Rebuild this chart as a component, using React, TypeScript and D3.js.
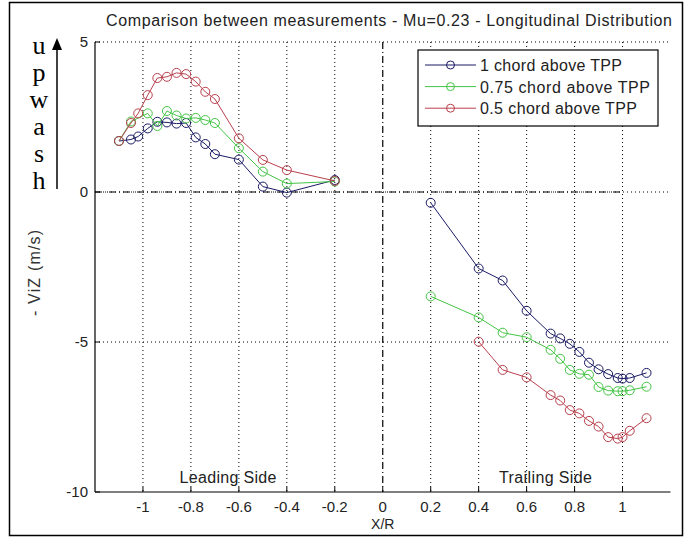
import React from "react";
import * as d3 from "d3";

// ---------- data ----------
const xLead = [-1.1, -1.05, -1.02, -0.98, -0.94, -0.9, -0.86, -0.82, -0.78, -0.74, -0.7, -0.6, -0.5, -0.4, -0.2];
const blueLead = [1.7, 1.75, 1.85, 2.12, 2.34, 2.32, 2.28, 2.3, 1.82, 1.6, 1.26, 1.08, 0.18, -0.02, 0.4];
const xGreenLead = [-1.1, -1.05, -0.98, -0.94, -0.9, -0.86, -0.82, -0.78, -0.74, -0.7, -0.6, -0.5, -0.4, -0.2];
const greenLead = [1.7, 2.35, 2.62, 2.2, 2.7, 2.55, 2.45, 2.47, 2.4, 2.3, 1.46, 0.68, 0.28, 0.35];
const redLead = [1.7, 2.3, 2.62, 3.23, 3.8, 3.84, 3.97, 3.93, 3.68, 3.34, 3.1, 1.79, 1.07, 0.73, 0.37];

const xTrail = [0.2, 0.4, 0.5, 0.6, 0.7, 0.74, 0.78, 0.82, 0.86, 0.9, 0.94, 0.98, 1.0, 1.03, 1.1];
const blueTrail = [-0.36, -2.55, -2.95, -3.96, -4.72, -4.88, -5.06, -5.33, -5.69, -5.91, -6.07, -6.2, -6.22, -6.2, -6.03];
const greenTrail = [-3.48, -4.18, -4.69, -4.84, -5.26, -5.56, -5.93, -6.06, -6.09, -6.5, -6.62, -6.64, -6.64, -6.61, -6.49];
const xRedTrail = [0.4, 0.5, 0.6, 0.7, 0.74, 0.78, 0.82, 0.86, 0.9, 0.94, 0.98, 1.0, 1.03, 1.1];
const redTrail = [-4.99, -5.93, -6.18, -6.77, -6.95, -7.27, -7.38, -7.63, -7.82, -8.17, -8.22, -8.17, -7.96, -7.54];

const seriesNames = ["1 chord above TPP", "0.75 chord above TPP", "0.5 chord above TPP"];
const seriesColors = ["#1a1a66", "#44c444", "#b8404c"];
const xTicks = [-1, -0.8, -0.6, -0.4, -0.2, 0, 0.2, 0.4, 0.6, 0.8, 1];
const yTicks = [5, 0, -5, -10];
const upwashLetters = ["u", "p", "w", "a", "s", "h"];

const titleText = "Comparison between measurements - Mu=0.23 - Longitudinal Distribution";

type Pt = [number, number];
const zip = (xs: number[], ys: number[]): Pt[] => xs.map((x, i) => [x, ys[i]]);

const segments = [
  [zip(xLead, blueLead), zip(xTrail, blueTrail)],
  [zip(xGreenLead, greenLead), zip(xTrail, greenTrail)],
  [zip(xLead, redLead), zip(xRedTrail, redTrail)],
];

// ---------- layout ----------
const W = 686;
const H = 539;
const x = d3.scaleLinear().domain([-1.2, 1.2]).range([95, 670.5]);
const y = d3.scaleLinear().domain([-10, 5]).range([492, 42]);
const font = "'Liberation Sans', Arial, Helvetica, sans-serif";
const legendTextLen = [142, 170, 157];

const fmt = (t: number) => (t < 0 ? "-" + Math.abs(t) : String(t));

export default function App() {
  const line = d3
    .line<Pt>()
    .x((d) => x(d[0]))
    .y((d) => y(d[1]));
  const [x0, x1] = x.range();
  const [yb, yt] = y.range();

  return (
    <svg
      width={W}
      height={H}
      style={{ position: "absolute", left: 0, top: 0, background: "#fff" }}
      fontFamily={font}
    >
      <rect x={0} y={0} width={W} height={H} fill="#fff" />
      {/* outer frame */}
      <rect x={9.5} y={2.5} width={673} height={533} fill="none" stroke="#000" strokeWidth={1.5} />

      {/* title */}
      <text x={389} y={26} textAnchor="middle" fontSize={16} fill="#222" textLength={566} lengthAdjust="spacing">
        {titleText}
      </text>

      {/* vertical grid */}
      {xTicks
        .filter((t) => t !== 0)
        .map((t) => (
          <line key={"vg" + t} x1={x(t)} x2={x(t)} y1={yt} y2={yb} stroke="#000" strokeWidth={1} strokeDasharray="1,3" />
        ))}
      {/* horizontal grid */}
      {yTicks
        .filter((t) => t !== -10)
        .map((t) => (
          <line key={"hg" + t} x1={x0} x2={x1} y1={y(t)} y2={y(t)} stroke="#000" strokeWidth={1} strokeDasharray="1,3" />
        ))}
      {/* zero reference lines */}
      <line x1={x0} x2={x(1)} y1={y(0)} y2={y(0)} stroke="#000" strokeWidth={1.2} strokeDasharray="7,3,1,3" />
      <line x1={x(0)} x2={x(0)} y1={yt} y2={yb} stroke="#000" strokeWidth={1.2} strokeDasharray="7,3,1,3" />

      {/* axes */}
      <line x1={x0} x2={x0} y1={yt} y2={yb} stroke="#000" strokeWidth={1.2} />
      <line x1={x0} x2={x1} y1={yb} y2={yb} stroke="#000" strokeWidth={1.2} />
      {yTicks.map((t) => (
        <g key={"yt" + t}>
          <line x1={x0} x2={x0 + 5} y1={y(t)} y2={y(t)} stroke="#000" />
          <text x={x0 - 7} y={y(t) + 5} textAnchor="end" fontSize={15} fill="#222">
            {fmt(t)}
          </text>
        </g>
      ))}
      {xTicks.map((t) => (
        <g key={"xt" + t}>
          <line x1={x(t)} x2={x(t)} y1={yb} y2={yb - 5} stroke="#000" />
          <text x={x(t)} y={yb + 20} textAnchor="middle" fontSize={15} fill="#222">
            {fmt(t)}
          </text>
        </g>
      ))}
      <text x={x(0)} y={529} textAnchor="middle" fontSize={14} fill="#222">
        X/R
      </text>
      <text
        transform={`translate(40, 273) rotate(-90)`}
        textAnchor="middle"
        fontSize={16}
        fill="#333"
        textLength={86}
        lengthAdjust="spacing"
      >
        - ViZ (m/s)
      </text>

      {/* upwash annotation */}
      {upwashLetters.map((c, i) => (
        <text key={"u" + i} x={39} y={54 + i * 27} textAnchor="middle" fontSize={26} fontFamily="'Liberation Serif', 'Times New Roman', serif" fill="#000">
          {c}
        </text>
      ))}
      <line x1={57} x2={57} y1={48} y2={189} stroke="#000" strokeWidth={1.5} />
      <path d="M57,38 L52,50 L62,50 Z" fill="#000" />

      {/* side labels */}
      <text x={228} y={483} textAnchor="middle" fontSize={16} fill="#222" textLength={97} lengthAdjust="spacing">
        Leading Side
      </text>
      <text x={545.5} y={483} textAnchor="middle" fontSize={16} fill="#222" textLength={93} lengthAdjust="spacing">
        Trailing Side
      </text>

      {/* data */}
      {segments.map((segs, si) => (
        <g key={"s" + si}>
          {segs.map((pts, k) => (
            <g key={k}>
              <path d={line(pts) || ""} fill="none" stroke={seriesColors[si]} strokeWidth={1} />
              {pts.map((p, j) => (
                <circle key={j} cx={x(p[0])} cy={y(p[1])} r={4.5} fill="none" stroke={seriesColors[si]} strokeWidth={1} />
              ))}
            </g>
          ))}
        </g>
      ))}

      {/* legend */}
      <g>
        <rect x={418} y={50} width={240} height={76} fill="#fff" stroke="#000" strokeWidth={1.2} />
        {seriesNames.map((n, i) => {
          const ly = 65 + i * 21.6;
          return (
            <g key={"lg" + i}>
              <line x1={425} x2={476} y1={ly} y2={ly} stroke={seriesColors[i]} strokeWidth={1} />
              <circle cx={450.5} cy={ly} r={4} fill="none" stroke={seriesColors[i]} strokeWidth={1} />
              <text x={480} y={ly + 6} fontSize={16} fill="#222" textLength={legendTextLen[i]} lengthAdjust="spacing">
                {n}
              </text>
            </g>
          );
        })}
      </g>
    </svg>
  );
}
